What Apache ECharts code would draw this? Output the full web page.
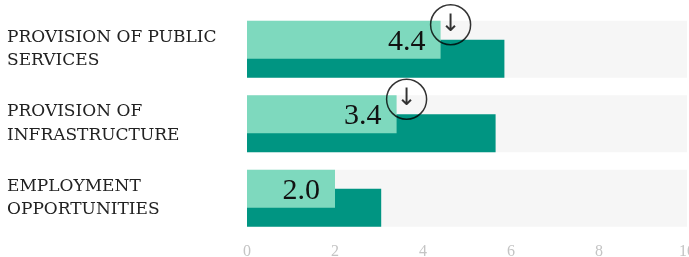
<!DOCTYPE html>
<html>
<head>
<meta charset="utf-8">
<script src="https://cdn.jsdelivr.net/npm/echarts@6/dist/echarts.min.js"></script>
<style>
html,body{margin:0;padding:0;background:#fff;}
#chart{width:689px;height:257px;}
</style>
</head>
<body>
<div id="chart"></div>
<script>
// ---- data ----
const categories = ['PROVISION OF PUBLIC\nSERVICES', 'PROVISION OF\nINFRASTRUCTURE', 'EMPLOYMENT\nOPPORTUNITIES'];
const currentValues = [4.4, 3.4, 2.0];
const previousValues = [5.85, 5.65, 3.05];
const trend = ['down', 'down', null];
const axisMax = 10;
const tickInterval = 2;

const bgValues = categories.map(() => axisMax);
const trendPoints = [];
trend.forEach((t, i) => { if (t) trendPoints.push([currentValues[i], i]); });

const chart = echarts.init(document.getElementById('chart'));
chart.setOption({
  animation: false,
  grid: { left: 247, right: 2, top: 12, bottom: 21.5, containLabel: false, outerBoundsMode: 'none' },
  xAxis: {
    type: 'value', min: 0, max: axisMax, interval: tickInterval,
    axisLine: { show: false }, axisTick: { show: false }, splitLine: { show: false },
    axisLabel: { color: '#c4c4c4', fontFamily: 'Liberation Serif', fontSize: 16, margin: 8 }
  },
  yAxis: [
    {
      type: 'category', data: categories, inverse: true,
      axisLine: { show: false }, axisTick: { show: false },
      axisLabel: {
        align: 'left', margin: 240, color: '#222',
        fontFamily: 'DejaVu Serif', fontSize: 17, lineHeight: 23.5
      }
    },
    { type: 'category', data: categories, inverse: true, show: false }
  ],
  series: [
    {
      type: 'bar', yAxisIndex: 1, data: bgValues, barWidth: 57,
      itemStyle: { color: '#f6f6f6' }, silent: true, z: 1
    },
    {
      name: 'current', type: 'bar', yAxisIndex: 0, data: currentValues,
      barWidth: 38, barGap: '-50%', z: 4,
      itemStyle: { color: '#7ed9be' },
      label: {
        show: true, position: 'insideRight', distance: 15, offset: [0, 2],
        fontFamily: 'Liberation Serif', fontSize: 30, color: '#111',
        formatter: p => p.value.toFixed(1)
      }
    },
    {
      name: 'previous', type: 'bar', yAxisIndex: 0, data: previousValues,
      barWidth: 38, barGap: '-50%', z: 3,
      itemStyle: { color: '#009582' }
    },
    {
      type: 'scatter', yAxisIndex: 0, data: trendPoints, z: 10,
      symbol: 'circle', symbolSize: 40, symbolOffset: [10, -24.5],
      itemStyle: { color: 'rgba(0,0,0,0)', borderColor: '#000', borderWidth: 1.5 },
      label: {
        show: true, position: 'inside', formatter: '↓',
        fontFamily: 'DejaVu Sans', fontSize: 24, color: '#000'
      }
    }
  ]
});
</script>
</body>
</html>
